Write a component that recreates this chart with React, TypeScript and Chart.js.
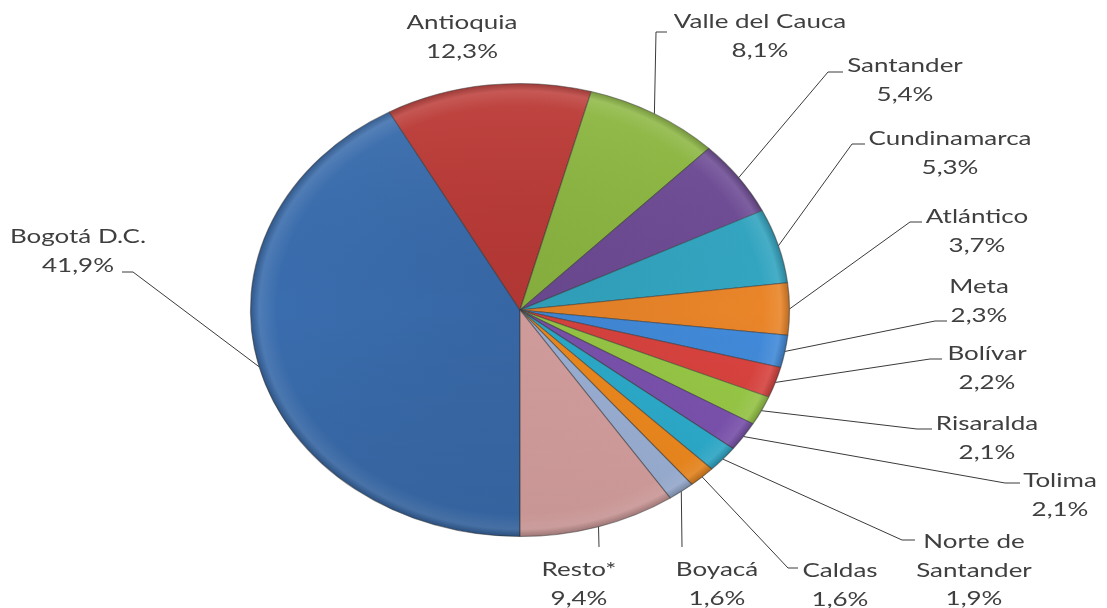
import React, { useEffect, useRef } from "react";
import { Chart, registerables } from "chart.js";
Chart.register(...registerables);

// ---- data ----
const categories = [
  "Bogotá D.C.", "Antioquia", "Valle del Cauca", "Santander", "Cundinamarca",
  "Atlántico", "Meta", "Bolívar", "Risaralda", "Tolima",
  "Norte de Santander", "Caldas", "Boyacá", "Resto*",
];
const shares = [41.9, 12.3, 8.1, 5.4, 5.3, 3.7, 2.3, 2.2, 2.1, 2.1, 1.9, 1.6, 1.6, 9.4];
const nameLines = [
  ["Bogotá D.C."], ["Antioquia"], ["Valle del Cauca"], ["Santander"], ["Cundinamarca"],
  ["Atlántico"], ["Meta"], ["Bolívar"], ["Risaralda"], ["Tolima"],
  ["Norte de", "Santander"], ["Caldas"], ["Boyacá"], ["Resto*"],
];
const valueLabels = shares.map((v) => v.toFixed(1).replace(".", ",") + "%");

// ---- styles / layout ----
const sliceColors = [
  "#3A6DAE", "#BC3B37", "#8DB842", "#6F4C96", "#33A6C2",
  "#EA8529", "#428BDB", "#DC4440", "#9ACB47", "#7E54B2",
  "#2EB0D1", "#F58D1F", "#A0B6DC", "#DCA5A4",
];
const STRETCH_X = 1.19; // pie drawn as ellipse
const TEXT_SX = 1.3;
const TEXT_COLOR = "#3F3F3F";
const LINE_H = 28.5;
// [centre x, first baseline y]
const labelPos = [
  [78, 243], [462, 29], [760, 28], [905, 72], [950, 145],
  [977, 223], [979, 293], [987, 360], [987, 430], [1060, 487],
  [974, 548], [840, 577], [717, 576], [579, 576],
];
// [tick end x, elbow x, y] or null
const leaderTicks: (number[] | null)[] = [
  [122, 133, 272], null, [667, 656, 32], [843, 828, 72], [865, 852, 144],
  [922, 910, 222], [947, 935, 321], [942, 930, 359], [932, 917, 429], [1020, 1005, 483],
  [915, 902, 540], [798, 788, 568], [682, 682, 547], [599, 599, 547],
];

function shade(hex: string, amt: number) {
  const n = parseInt(hex.slice(1), 16);
  let r = (n >> 16) & 255, g = (n >> 8) & 255, b = n & 255;
  const t = amt < 0 ? 0 : 255;
  const p = Math.abs(amt);
  r = Math.round(r + (t - r) * p);
  g = Math.round(g + (t - g) * p);
  b = Math.round(b + (t - b) * p);
  return `rgb(${r},${g},${b})`;
}

const ellipsePlugin = {
  id: "ellipse",
  beforeDatasetsDraw(chart: any) {
    const arc = chart.getDatasetMeta(0).data[0];
    if (!arc) return;
    const ctx = chart.ctx;
    ctx.save();
    ctx.translate(arc.x, arc.y);
    ctx.scale(STRETCH_X, 1);
    ctx.translate(-arc.x, -arc.y);
  },
  afterDatasetsDraw(chart: any) {
    const arc = chart.getDatasetMeta(0).data[0];
    if (!arc) return;
    const ctx = chart.ctx;
    ctx.restore();
    const r = arc.outerRadius;
    ctx.save();
    ctx.globalCompositeOperation = "source-atop";
    const g = ctx.createLinearGradient(0, arc.y - r, 0, arc.y + r);
    g.addColorStop(0, "rgba(255,255,255,0.06)");
    g.addColorStop(0.5, "rgba(0,0,0,0)");
    g.addColorStop(1, "rgba(0,0,0,0.10)");
    ctx.fillStyle = g;
    ctx.fillRect(arc.x - r * STRETCH_X - 5, arc.y - r - 5, r * 2 * STRETCH_X + 10, r * 2 + 10);
    ctx.restore();
  },
};

const labelPlugin = {
  id: "sliceLabels",
  afterDraw(chart: any) {
    const ctx = chart.ctx;
    const meta = chart.getDatasetMeta(0);
    ctx.save();
    ctx.strokeStyle = "#3a3a3a";
    ctx.lineWidth = 1;
    meta.data.forEach((arc: any, i: number) => {
      const mid = (arc.startAngle + arc.endAngle) / 2;
      const ax = arc.x + Math.cos(mid) * arc.outerRadius * STRETCH_X;
      const ay = arc.y + Math.sin(mid) * arc.outerRadius;
      const t = leaderTicks[i];
      if (t) {
        ctx.beginPath();
        ctx.moveTo(t[0], t[2]);
        ctx.lineTo(t[1], t[2]);
        ctx.lineTo(ax, ay);
        ctx.stroke();
      }
    });
    ctx.fillStyle = TEXT_COLOR;
    ctx.font = '20px Lato, "Open Sans", sans-serif';
    ctx.textAlign = "center";
    ctx.textBaseline = "alphabetic";
    categories.forEach((_, i) => {
      const lines = [...nameLines[i], valueLabels[i]];
      const [x, y] = labelPos[i];
      lines.forEach((s, k) => {
        ctx.save();
        ctx.translate(x, y + k * LINE_H);
        ctx.scale(TEXT_SX, 1);
        ctx.fillText(s, 0, 0);
        ctx.restore();
      });
    });
    ctx.restore();
  },
};

export default function App() {
  const ref = useRef<HTMLCanvasElement>(null);
  useEffect(() => {
    document.body.style.margin = "0";
    const canvas = ref.current!;
    const chart = new Chart(canvas, {
      type: "pie",
      data: {
        labels: categories,
        datasets: [
          {
            data: shares,
            backgroundColor: (c: any) => {
              const base = sliceColors[c.dataIndex];
              const area = c.chart.chartArea;
              if (!area) return base;
              const cx = (area.left + area.right) / 2;
              const cy = (area.top + area.bottom) / 2;
              const r = Math.min(area.width, area.height) / 2;
              const g = c.chart.ctx.createRadialGradient(cx, cy, 0, cx, cy, r);
              g.addColorStop(0, shade(base, -0.06));
              g.addColorStop(0.9, base);
              g.addColorStop(0.965, shade(base, 0.1));
              g.addColorStop(1, shade(base, -0.22));
              return g;
            },
            borderColor: "rgba(50,50,50,0.5)",
            borderWidth: 1,
          },
        ],
      },
      options: {
        responsive: false,
        animation: false,
        rotation: 180,
        layout: { padding: { top: 83, bottom: 71, left: 293, right: 360 } },
        plugins: { legend: { display: false }, tooltip: { enabled: false } },
      },
      plugins: [ellipsePlugin, labelPlugin],
    });
    return () => chart.destroy();
  }, []);
  return (
    <div style={{ width: 1107, height: 608, background: "#fff" }}>
      <canvas ref={ref} width={1107} height={608} style={{ display: "block" }} />
    </div>
  );
}
